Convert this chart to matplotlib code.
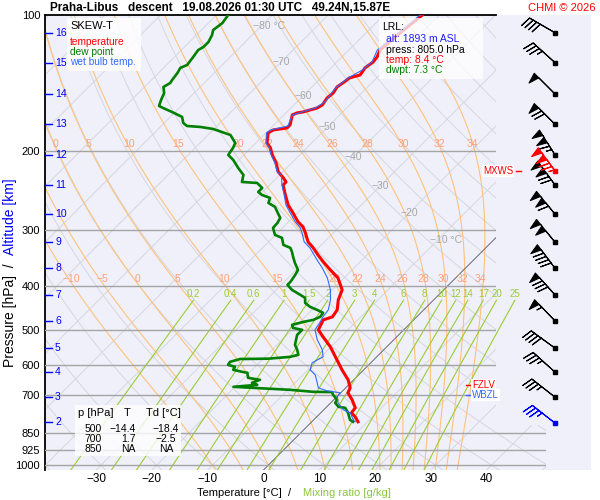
import numpy as np
import matplotlib
matplotlib.use("Agg")
import matplotlib.pyplot as plt
from matplotlib.patches import Polygon, Rectangle
from matplotlib.ticker import NullLocator
import matplotlib.transforms as mtransforms

plt.rcParams['font.family'] = ['Liberation Sans', 'DejaVu Sans']

# ---------------- data ----------------
temp_p = [100.0, 109.6, 119.6, 123.9, 127.2, 131.1, 135.9, 138.0, 140.8, 144.5, 149.0, 152.9, 158.4, 160.9,
          164.2, 165.0, 166.7, 175.5, 178.2, 180.0, 182.8, 192.4, 197.4, 204.6, 213.1, 223.1, 230.1, 234.9,
          238.5, 251.0, 264.2, 275.2, 288.1, 295.6, 304.8, 319.2, 329.1, 341.1, 353.5, 368.3, 383.7, 407.9,
          429.3, 451.9, 468.3, 475.6, 500.5, 518.7, 545.9, 574.6, 614.0, 646.3, 673.3, 690.7, 715.9, 745.8,
          765.1, 780.9, 801.1]
temp_t = [-53.1, -53.9, -54.4, -53.7, -53.5, -53.9, -53.5, -54.9, -55.1, -55.5, -55.1, -55.3, -54.9, -55.3,
          -57.1, -58.0, -58.5, -57.1, -57.1, -59.2, -59.6, -58.0, -56.5, -54.9, -52.8, -50.8, -48.8, -47.6,
          -47.6, -45.4, -43.1, -40.8, -38.3, -36.5, -35.0, -32.9, -30.9, -28.8, -26.6, -23.9, -21.1, -18.2,
          -17.1, -15.5, -15.1, -16.2, -15.3, -13.2, -10.1, -7.4, -3.9, -1.0, 0.8, 1.3, 3.3, 5.3,
          5.5, 6.9, 8.3]

dwpt_p = [100.0, 104.2, 108.0, 110.8, 114.8, 117.8, 119.6, 124.6, 129.1, 131.1, 134.5, 139.4, 141.6, 144.5,
          149.0, 154.4, 159.2, 160.9, 164.2, 168.4, 173.7, 176.4, 177.3, 179.1, 184.7, 192.4, 197.4, 204.6,
          209.9, 218.6, 226.6, 234.9, 236.1, 242.2, 247.2, 251.0, 254.9, 261.5, 266.9, 273.8, 282.3, 289.6,
          297.1, 307.9, 312.7, 324.1, 329.1, 335.9, 344.6, 355.4, 368.3, 377.8, 391.6, 397.6, 407.9, 418.5,
          425.0, 436.0, 445.0, 451.9, 458.8, 468.3, 475.6, 480.5, 487.9, 495.5, 500.5, 513.5, 540.4, 554.4,
          568.7, 574.6, 580.0, 581.0, 589.5, 598.6, 604.8, 614.0, 620.4, 623.6, 639.7, 646.3, 656.3, 663.0,
          669.8, 680.2, 687.2, 688.0, 697.8, 715.9, 727.0, 741.9, 745.8, 765.1, 793.0, 801.1]
dwpt_t = [-87.9, -87.5, -87.9, -87.2, -86.6, -86.6, -87.0, -86.6, -86.3, -87.0, -86.6, -86.3, -86.1, -86.6,
          -85.4, -84.7, -84.0, -82.9, -80.6, -77.9, -76.6, -75.4, -72.8, -70.2, -66.0, -63.7, -63.2, -62.8,
          -61.0, -58.7, -56.5, -55.5, -52.6, -50.8, -50.8, -49.6, -47.6, -47.0, -45.1, -43.8, -42.2, -41.8,
          -41.7, -40.1, -38.3, -36.8, -35.0, -34.0, -32.9, -31.5, -29.7, -29.3, -28.9, -28.9, -27.2, -24.8,
          -23.4, -22.5, -20.9, -19.1, -17.5, -17.3, -18.0, -19.4, -20.9, -20.2, -18.2, -18.2, -16.8, -15.5,
          -14.4, -15.5, -19.1, -24.1, -25.4, -25.2, -23.6, -23.4, -21.4, -20.3, -19.3, -16.8, -17.7, -16.4,
          -20.3, -9.6, -5.1, -1.7, -1.0, 0.6, 0.8, 2.1, 3.5, 4.9, 6.5, 7.4]

wetb_p = [100.0, 119.6, 127.2, 132.5, 138.0, 145.2, 156.0, 160.9, 166.7, 176.4, 180.0, 182.8, 192.4, 197.4,
          204.6, 213.1, 223.1, 226.6, 238.5, 251.0, 264.2, 275.2, 288.1, 297.1, 304.8, 319.2, 329.1, 341.1,
          353.5, 364.6, 383.7, 407.9, 429.3, 451.9, 468.3, 480.5, 500.5, 526.7, 554.4, 574.6, 583.4, 592.4,
          614.0, 630.0, 656.3, 673.3, 683.7, 690.7, 704.9, 727.0, 753.4, 765.1, 793.0, 801.1]
wetb_t = [-53.5, -54.9, -53.7, -54.0, -55.1, -55.6, -55.0, -55.6, -58.5, -57.3, -59.6, -59.9, -58.2, -56.7,
          -55.1, -53.0, -51.0, -49.7, -47.8, -45.6, -43.5, -41.3, -38.8, -36.8, -35.6, -33.6, -31.5, -29.5,
          -27.5, -25.7, -23.0, -20.3, -18.5, -17.1, -16.8, -16.4, -15.9, -13.7, -11.0, -9.6, -10.1, -10.5,
          -9.6, -7.8, -6.0, -4.9, -2.8, -0.1, 0.1, 1.3, 3.5, 5.3, 7.1, 7.8]

# wind (km levels 16..3, max wind, lowest reported level)
wind_p = [109.5, 127.6, 149.8, 174.9, 204.6, 222.0, 238.5, 277.0, 319.7, 365.1, 418.5, 478.0, 549.6, 621.3, 706.1, 805.0]
wind_dir = [300, 312, 315, 315, 328, 324, 324, 321, 321, 323, 318, 316, 306, 312, 308, 308]
wind_spd = [40, 35, 50, 70, 115, 125, 120, 110, 100, 90, 80, 55, 40, 35, 35, 35]
wind_col = ['black'] * 5 + ['red'] + ['black'] * 9 + ['blue']

# altitude scale
km_levels = [2, 3, 4, 5, 6, 7, 8, 9, 10, 11, 12, 13, 14, 15, 16]
km_press = [799.9, 706.1, 621.3, 549.6, 478.0, 418.5, 365.1, 319.7, 277.0, 238.5, 204.6, 174.9, 149.8, 127.6, 109.5]

isobar_vals = [100, 200, 300, 400, 500, 600, 700, 850, 925, 1000]
temp_ticks = [-30, -20, -10, 0, 10, 20, 30, 40]
isotherm_vals = list(range(-140, 60, 10))
isotherm_lab_t = [-80, -70, -60, -50, -40, -30, -20, -10]
isotherm_lab_p = [106.0, 127.2, 151.3, 177.3, 206.7, 239.7, 275.2, 315.9]
isotherm_lab_s = ['-80 °C', '-70', '-60', '-50', '-40', '-30', '-20', '-10 °C']
theta_vals = list(range(-40, 190, 10))
thw_vals = [-10, -5, 0, 5, 10, 15, 20, 22, 24, 26, 28, 30, 32, 34]
thw_label_p = [200, 400]
mix_vals = [0.2, 0.4, 0.6, 1, 1.5, 2, 3, 4, 6, 8, 10, 12, 14, 17, 20, 25]
mix_labels = ['0.2', '0.4', '0.6', '1', '1.5', '2', '3', '4', '6', '8', '10', '12', '14', '17', '20', '25']
mix_top = 430.0

table_head = ['p [hPa]', 'T', 'Td [°C]']
table_p = ['500', '700', '850']
table_t = ['-14.4', '1.7', 'NA']
table_td = ['-18.4', '-2.5', 'NA']

lrl_alt, lrl_press, lrl_temp, lrl_dwpt = 1893, 805.0, 8.4, 7.3
mxws_p = 222.0
fzlv_p = 663.0
wbzl_p = 698.0

# ---------------- geometry ----------------
P_BOT, P_TOP = 1025.0, 100.0
K = 35.05
XL, XR = -39.16, 58.69
W, H = 600, 500
MINUS = '\u2212'


def sk(t, p):
    return np.asarray(t, float) + K * np.log(P_BOT / np.asarray(p, float))


def px2x(px):
    return XL + (px - 45) * (XR - XL) / 546.0


fig = plt.figure(figsize=(6, 5), dpi=100)
ax = fig.add_axes([45 / W, 30 / H, 546 / W, 455 / H])
ax.set_facecolor('#f0f0fb')
ax.set_yscale('log')
ax.set_ylim(P_BOT, P_TOP)
ax.set_xlim(XL, XR)

X496, X546 = px2x(496), px2x(546)
clip = Polygon([(XL, P_BOT), (X546, P_BOT), (X546, 813), (X496, 813), (X496, P_TOP), (XL, P_TOP)],
               closed=True, transform=ax.transData, fc='none', ec='none')

pp = np.geomspace(P_BOT, P_TOP, 120)

# isotherms
for t in isotherm_vals:
    col, lw = ('#6a6a6a', 0.7) if t == 0 else ('#d6d6dc', 0.7)
    ln, = ax.plot(sk(np.full_like(pp, t), pp), pp, color=col, lw=lw, zorder=1.5 if t == 0 else 1)
    ln.set_clip_path(clip)

# dry adiabats
for th in theta_vals:
    T = (th + 273.15) * (pp / 1000.0) ** 0.2857 - 273.15
    ln, = ax.plot(sk(T, pp), pp, color='#d6d6dc', lw=0.7, zorder=1)
    ln.set_clip_path(clip)

# moist adiabats
Rd, Cp, Lv, eps = 287.04, 1005.7, 2.501e6, 0.622


def dtdp(T, p):
    tc = T - 273.15
    es = 6.112 * np.exp(17.67 * tc / (tc + 243.5))
    rs = eps * es / (p - es)
    return (Rd * T + Lv * rs) / (p * (Cp + Lv * Lv * rs * eps / (Rd * T * T)))


def integrate(T0, p0, p1, n):
    ps = np.linspace(p0, p1, n + 1)
    h = ps[1] - ps[0]
    T = np.empty(n + 1)
    T[0] = T0
    for i in range(n):
        p, t = ps[i], T[i]
        k1 = dtdp(t, p)
        k2 = dtdp(t + h * k1 / 2, p + h / 2)
        k3 = dtdp(t + h * k2 / 2, p + h / 2)
        k4 = dtdp(t + h * k3, p + h)
        T[i + 1] = t + h * (k1 + 2 * k2 + 2 * k3 + k4) / 6
    return ps, T


for thw in thw_vals:
    pu, tu = integrate(thw + 273.15, 1000.0, P_TOP, 450)
    pd, td = integrate(thw + 273.15, 1000.0, P_BOT, 10)
    pm = np.concatenate([pd[::-1], pu[1:]])
    tm = np.concatenate([td[::-1], tu[1:]]) - 273.15
    ln, = ax.plot(sk(tm, pm), pm, color='#ffc27a', lw=0.8, zorder=1.2)
    ln.set_clip_path(clip)
    for plab in thw_label_p:
        tl = np.interp(plab, pm[::-1], tm[::-1])
        xl = float(sk(tl, plab))
        if XL + 1.0 < xl < X496 - 0.8:
            ax.text(xl - 0.4, plab * 0.99, str(thw).replace('-', MINUS), color='#ffa07a', fontsize=7.5,
                    ha='center', va='bottom', zorder=2.5)

# mixing ratio lines
pmx = np.geomspace(P_BOT, mix_top, 40)
for w, lab in zip(mix_vals, mix_labels):
    e = (w / 1000.0) * pmx / (eps + w / 1000.0)
    lg = np.log(e / 6.112)
    Td = 243.5 * lg / (17.67 - lg)
    ax.plot(sk(Td, pmx), pmx, color='#9acd32', lw=0.8, zorder=2)
    ax.text(float(sk(Td[-1], mix_top)), mix_top * 0.995, lab, color='#9acd32', fontsize=7,
            ha='center', va='bottom', zorder=2.5)

# isobars
for p in isobar_vals[1:]:
    ln, = ax.plot([XL, X546], [p, p], color='#a4a4a4', lw=1.0, zorder=3)
    ln.set_clip_path(clip)

# isotherm labels
for t, p, s in zip(isotherm_lab_t, isotherm_lab_p, isotherm_lab_s):
    off = 1.5 if '°C' in s else 0.0
    ax.text(float(sk(t, p)) + off, p, s.replace('-', MINUS), color='#a8a8a8', fontsize=7.5,
            ha='center', va='center', zorder=2.5)

# profiles
ax.plot(sk(temp_t, temp_p), temp_p, color='#ff0000', lw=2.2, zorder=5, solid_joinstyle='round')
ax.plot(sk(dwpt_t, dwpt_p), dwpt_p, color='#008000', lw=1.9, zorder=5.1, solid_joinstyle='round')
ax.plot(sk(wetb_t, wetb_p), wetb_p, color='#2f6cff', lw=0.8, zorder=5.2)

# wind barbs
bx = px2x(555)
wp = np.array(wind_p)
wd = np.deg2rad(np.array(wind_dir))
ws = np.array(wind_spd, float)
u = -ws * np.sin(wd)
v = -ws * np.cos(wd)
for c in ['black', 'red', 'blue']:
    m = np.array([cc == c for cc in wind_col])
    ax.barbs(np.full(m.sum(), bx), wp[m], u[m], v[m], length=6.5, pivot='tip',
             barbcolor=c, flagcolor=c, linewidth=0.8, flip_barb=True,
             sizes=dict(spacing=0.14, height=0.36, width=0.22, emptybarb=0.0),
             clip_on=False, zorder=7)
    ax.plot(np.full(m.sum(), bx), wp[m], 's', ms=2.6, color=c, zorder=7.5, clip_on=False)

# axes cosmetics
for s in ['right', 'bottom']:
    ax.spines[s].set_visible(False)
ax.spines['left'].set_linewidth(1.3)
ax.spines['top'].set_linewidth(1.3)
ax.spines['top'].set_bounds(XL, X496)
ax.set_yticks(isobar_vals)
ax.set_yticklabels([str(p) for p in isobar_vals])
ax.yaxis.set_minor_locator(NullLocator())
ax.set_xticks(temp_ticks)
ax.set_xticklabels([str(t).replace('-', MINUS) for t in temp_ticks])
ax.tick_params(axis='y', length=0, pad=3.5, labelsize=8)
ax.tick_params(axis='x', length=0, pad=2.5, labelsize=8.5)

# altitude ticks (inside)
btr = mtransforms.blended_transform_factory(ax.transAxes, ax.transData)
for km, p in zip(km_levels, km_press):
    ax.plot([0, 7 / 546], [p, p], color='#0000ff', lw=1.0, transform=btr, zorder=6, clip_on=False)
    ax.text(10 / 546, p, str(km), color='#0000ff', fontsize=7.5, ha='left', va='center',
            transform=btr, zorder=6)

# FZLV / WBZL / MXWS markers
ax.plot([px2x(466), px2x(471)], [fzlv_p, fzlv_p], color='red', lw=1.0, zorder=8, clip_on=False)
ax.plot([px2x(466), px2x(471)], [wbzl_p, wbzl_p], color='#2f6cff', lw=1.0, zorder=8, clip_on=False)
ax.text(px2x(472), fzlv_p, 'FZLV', color='red', fontsize=7, ha='left', va='center', zorder=8,
        bbox=dict(fc='white', ec='none', pad=0.6))
ax.text(px2x(472), wbzl_p, 'WBZL', color='#2f6cff', fontsize=7, ha='left', va='center', zorder=8,
        bbox=dict(fc='white', ec='none', pad=0.6))
ax.plot([px2x(516), px2x(521)], [mxws_p, mxws_p], color='red', lw=1.0, zorder=8, clip_on=False)
ax.text(px2x(513), mxws_p, 'MXWS', color='red', fontsize=7, ha='right', va='center', zorder=8,
        bbox=dict(fc='white', ec='none', pad=0.6))


# ---------------- figure-level text ----------------
def ftxt(x, y, s, **kw):
    return fig.text(x / W, 1 - y / H, s, **kw)


def fbox(x0, y0, x1, y1, alpha):
    fig.add_artist(Rectangle((x0 / W, 1 - y1 / H), (x1 - x0) / W, (y1 - y0) / H,
                             transform=fig.transFigure, fc='white', ec='none', alpha=alpha, zorder=2))


ftxt(50, 8, 'Praha-Libus   descent   19.08.2026 01:30 UTC   49.24N,15.87E', fontsize=8.5,
     fontweight='bold', ha='left', va='center')
ftxt(596, 8, 'CHMI © 2026', fontsize=8, color='red', ha='right', va='center')

# legend
fbox(67, 18, 141, 71, 0.85)
ftxt(70, 26, 'SKEW-T', fontsize=8, ha='left', va='center', zorder=3)
ftxt(70, 42, 'temperature', fontsize=7.3, color='red', ha='left', va='center', zorder=3)
ftxt(70, 52, 'dew point', fontsize=7.3, color='#008000', ha='left', va='center', zorder=3)
ftxt(70, 62, 'wet bulb temp.', fontsize=7.3, color='#2f6cff', ha='left', va='center', zorder=3)

# LRL box
fbox(379, 18, 483, 79, 0.75)
ftxt(382, 27, 'LRL:', fontsize=7.5, ha='left', va='center', zorder=3)
ftxt(386, 39, f'alt: {lrl_alt} m ASL', fontsize=7.5, color='#2020ff', ha='left', va='center', zorder=3)
ftxt(386, 50, f'press: {lrl_press:.1f} hPa', fontsize=7.5, ha='left', va='center', zorder=3)
ftxt(386, 60, f'temp: {lrl_temp:.1f} °C', fontsize=7.5, color='red', ha='left', va='center', zorder=3)
ftxt(386, 70, f'dwpt: {lrl_dwpt:.1f} °C', fontsize=7.5, color='#008000', ha='left', va='center', zorder=3)

# table
fbox(75, 405, 181, 456, 0.8)
ftxt(78, 413, table_head[0], fontsize=8, ha='left', va='center', zorder=3)
ftxt(127, 413, table_head[1], fontsize=8, ha='center', va='center', zorder=3)
ftxt(163, 413, table_head[2], fontsize=8, ha='center', va='center', zorder=3)
for i, (a, b, c) in enumerate(zip(table_p, table_t, table_td)):
    y = 429 + 10 * i
    ftxt(93, y, a, fontsize=7.5, ha='center', va='center', zorder=3)
    ftxt(136, y, b.replace('-', MINUS), fontsize=7.5, ha='right', va='center', zorder=3)
    ftxt(166, y, c.replace('-', MINUS), fontsize=7.5, ha='center', va='center', zorder=3)

# axis labels (two-colour)
fig.canvas.draw()
r = fig.canvas.get_renderer()
xl1 = ftxt(197, 493, 'Temperature [°C]  /', fontsize=8, ha='left', va='center')
bb = xl1.get_window_extent(r)
fig.text((bb.x1 + 12) / W, 1 - 493 / H, 'Mixing ratio [g/kg]', fontsize=8, color='#8cc63e',
         ha='left', va='center')
yl1 = ftxt(10, 367, 'Pressure [hPa]  /', fontsize=10, rotation=90, ha='center', va='bottom')
bb = yl1.get_window_extent(r)
fig.text(10 / W, (bb.y1 + 8) / H, 'Altitude [km]', fontsize=10, color='#0000ff', rotation=90,
         ha='center', va='bottom')

fig.savefig('out.png', dpi=100)
